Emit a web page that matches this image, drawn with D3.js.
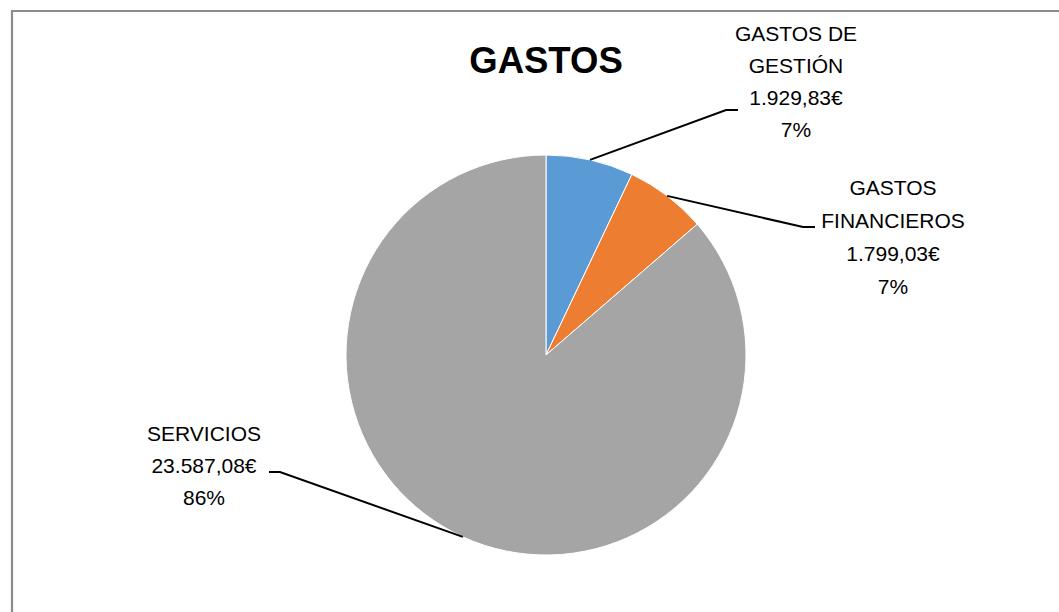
<!DOCTYPE html>
<html>
<head>
<meta charset="utf-8">
<script src="https://cdn.jsdelivr.net/npm/d3@7"></script>
<style>
  body { margin: 0; background: #fff; }
  text { font-family: "Liberation Sans", Arial, sans-serif; fill: #000; }
</style>
</head>
<body>
<div id="chart"></div>
<script>
// datos
var categorias = ["GASTOS DE GESTIÓN", "GASTOS FINANCIEROS", "SERVICIOS"];
var importes = [1929.83, 1799.03, 23587.08];
var etiquetas = [["GASTOS DE", "GESTIÓN"], ["GASTOS", "FINANCIEROS"], ["SERVICIOS"]];
var colores = ["#5B9BD5", "#ED7D31", "#A5A5A5"];

var width = 1059, height = 612;
var cx = 546, cy = 355, radio = 200;

// posicion de cada etiqueta (centro x, y primera linea) y codo de la guia
var posEtiqueta = [
    { x: 796, y: 41, codo: [726, 110], fin: [738, 110] },
    { x: 893, y: 195, codo: [803, 227], fin: [815, 227] },
    { x: 204, y: 441, codo: [280, 472], fin: [269, 472] }
];
var interlinea = [32, 33, 32];

var svg = d3.select("#chart")
    .append("svg")
    .attr("width", width)
    .attr("height", height);

// marco
svg.append("path")
    .attr("d", "M12," + height + "V11H" + width)
    .attr("fill", "none")
    .attr("stroke", "#8c8c8c")
    .attr("stroke-width", 2.2);

//titulo
svg.append("text")
    .attr("x", cx)
    .attr("y", 73)
    .attr("text-anchor", "middle")
    .style("font-size", "36.5px")
    .style("font-weight", "bold")
    .text("GASTOS");

var total = d3.sum(importes);
var pie = d3.pie().sort(null).value(d => d);
var arcos = pie(importes);
var arc = d3.arc().innerRadius(0).outerRadius(radio);

var g = svg.append("g").attr("transform", "translate(" + cx + "," + cy + ")");

g.selectAll("path.slice")
    .data(arcos)
    .enter()
    .append("path")
    .attr("class", "slice")
    .attr("d", arc)
    .attr("fill", (d, i) => colores[i])
    .attr("stroke", "#fff")
    .attr("stroke-width", 1);

var euro = d3.formatLocale({ decimal: ",", thousands: ".", grouping: [3], currency: ["", "€"] });
var fmtImporte = euro.format(",.2f");

// guias
arcos.forEach((d, i) => {
    var a = (d.startAngle + d.endAngle) / 2;
    var px = cx + radio * Math.sin(a), py = cy - radio * Math.cos(a);
    var p = posEtiqueta[i];
    svg.append("polyline")
        .attr("points", [[px, py], p.codo, p.fin].map(q => q.join(",")).join(" "))
        .attr("fill", "none")
        .attr("stroke", "#000")
        .attr("stroke-width", 2);

    var lineas = etiquetas[i].concat([fmtImporte(importes[i]) + "€", Math.round(importes[i] / total * 100) + "%"]);
    var t = svg.append("text")
        .attr("text-anchor", "middle")
        .style("font-size", "21px");
    lineas.forEach((l, k) => {
        t.append("tspan")
            .attr("x", p.x)
            .attr("y", p.y + k * interlinea[i])
            .text(l);
    });
});
</script>
</body>
</html>
